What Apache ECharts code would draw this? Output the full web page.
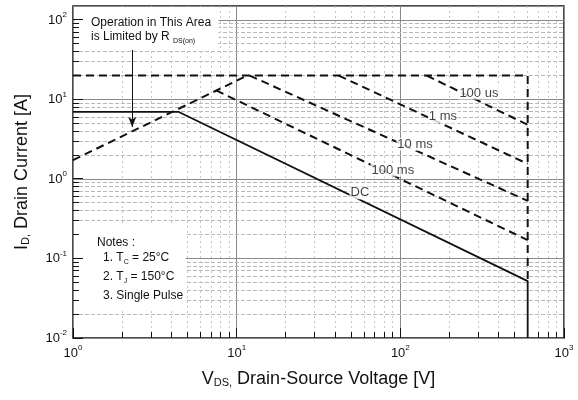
<!DOCTYPE html>
<html>
<head>
<meta charset="utf-8">
<script src="https://cdn.jsdelivr.net/npm/echarts@6/dist/echarts.min.js"></script>
<style>
  html, body { margin: 0; padding: 0; background: #fff; }
  #chart { width: 578px; height: 400px; }
</style>
</head>
<body>
<div id="chart"></div>
<script>
// Axis decades (log scales)
const xDecades = [1, 10, 100, 1000];
const yDecades = [0.01, 0.1, 1, 10, 100];
const yTop = 150;

// 20 A ceiling and 600 V breakdown wall
const limitV = [1, 600, 600];
const limitI = [20, 20, 0.052];

// R_DS(on) limited region
const rdsV = [1, 11.6];
const rdsI = [1.73, 20];

// Single-pulse boundaries
const pulseNames = ['100 us', '1 ms', '10 ms', '100 ms'];
const pulseV = [[145, 600], [42, 600], [12, 600], [7.5, 600]];
const pulseI = [[20, 4.8], [20, 1.55], [20, 0.53], [13, 0.17]];

// DC boundary
const dcV = [1, 4.4, 600, 600];
const dcI = [7, 7, 0.052, 0.01];

// Curve captions, anchored in data units
const labelText = ['100 us', '1 ms', '10 ms', '100 ms', 'DC'];
const labelV = [302, 182, 123, 90, 56.6];
const labelI = [12.05, 6.04, 2.74, 1.30, 0.67];

// Arrow pointing at the R_DS(on) line
const arrowV = 2.3;
const arrowI = [42, 4.5];

const FONT = "'Liberation Sans', Arial, Helvetica, sans-serif";
const INK = '#111';

function minorValues(decades, upper) {
  const out = [];
  decades.forEach(d => {
    for (let k = 2; k <= 9; k++) {
      const v = d * k;
      if (v < upper) out.push(v);
    }
  });
  return out;
}
const minorX = minorValues(xDecades.slice(0, -1), xDecades[xDecades.length - 1]);
const minorY = minorValues(yDecades, yTop);

const crisp = v => Math.round(v - 0.5) + 0.5;

function pairs(V, I) { return V.map((v, i) => [v, I[i]]); }

function expLabel(value) {
  const e = Math.log10(value);
  const r = Math.round(e);
  if (Math.abs(e - r) > 0.01) return '';
  return '{b|10}{s|' + r + '}';
}
const tickRich = {
  b: { fontSize: 13, fontFamily: FONT, color: INK, lineHeight: 18 },
  s: { fontSize: 8, fontFamily: FONT, color: INK, verticalAlign: 'top', lineHeight: 10 }
};

// Minor grid (behind everything)
function renderMinorGrid(params, api) {
  const cs = params.coordSys;
  const left = cs.x, right = cs.x + cs.width, top = cs.y, bottom = cs.y + cs.height;
  const children = [];
  minorY.forEach(v => {
    const y = crisp(api.coord([1, v])[1]);
    children.push({ type: 'line', silent: true,
      shape: { x1: left, y1: y, x2: right, y2: y },
      style: { stroke: '#b8b8b8', lineWidth: 1, lineDash: [4, 2] } });
  });
  minorX.forEach(v => {
    const x = crisp(api.coord([v, 1])[0]);
    children.push({ type: 'line', silent: true,
      shape: { x1: x, y1: top, x2: x, y2: bottom },
      style: { stroke: '#c6c6c6', lineWidth: 1, lineDash: [2, 3] } });
  });
  return { type: 'group', children };
}

// Inward ticks on the left and bottom frame
function renderTicks(params, api) {
  const cs = params.coordSys;
  const left = cs.x, bottom = cs.y + cs.height;
  const children = [];
  const tick = (shape) => children.push({ type: 'line', silent: true, shape,
    style: { stroke: INK, lineWidth: 1 } });
  yDecades.forEach(v => { const y = crisp(api.coord([1, v])[1]); tick({ x1: left, y1: y, x2: left + 10, y2: y }); });
  minorY.forEach(v => { const y = crisp(api.coord([1, v])[1]); tick({ x1: left, y1: y, x2: left + 6, y2: y }); });
  xDecades.forEach(v => { const x = crisp(api.coord([v, 1])[0]); tick({ x1: x, y1: bottom, x2: x, y2: bottom - 10 }); });
  minorX.forEach(v => { const x = crisp(api.coord([v, 1])[0]); tick({ x1: x, y1: bottom, x2: x, y2: bottom - 6 }); });
  return { type: 'group', children };
}

const dashed = { color: INK, width: 2, type: [8, 5] };
const solid = { color: INK, width: 1.8, type: 'solid' };

function lineSeries(name, V, I, style, extra) {
  return Object.assign({
    type: 'line', name, data: pairs(V, I),
    showSymbol: false, symbol: 'none', lineStyle: style,
    z: 3, silent: true, animation: false
  }, extra || {});
}

const series = [
  { type: 'custom', coordinateSystem: 'cartesian2d', data: [[1, 1]],
    renderItem: renderMinorGrid, z: 1, silent: true, animation: false },
  lineSeries('limit', limitV, limitI, dashed),
  lineSeries('rds', rdsV, rdsI, dashed, {
    markLine: {
      silent: true, animation: false,
      symbol: ['none', 'arrow'], symbolSize: [6, 10],
      lineStyle: { type: 'solid', color: INK, width: 1 },
      label: { show: false },
      data: [[{ coord: [arrowV, arrowI[0]] }, { coord: [arrowV, arrowI[1]] }]]
    }
  }),
  ...pulseNames.map((n, i) => lineSeries(n, pulseV[i], pulseI[i], dashed)),
  lineSeries('DC', dcV, dcI, solid),
  { type: 'scatter', z: 4, silent: true, animation: false,
    data: labelText.map((t, i) => [labelV[i], labelI[i], t]),
    symbolSize: 1, itemStyle: { color: 'transparent' },
    label: { show: true, position: 'inside', formatter: p => p.data[2],
      color: INK, fontSize: 13, fontFamily: FONT,
      backgroundColor: '#fff', padding: [0, 1] } },
  { type: 'custom', coordinateSystem: 'cartesian2d', data: [[1, 1]],
    renderItem: renderTicks, z: 10, silent: true, animation: false }
];

const option = {
  animation: false,
  backgroundColor: '#fff',
  grid: { left: 73, right: 14, top: 6, bottom: 62, show: true,
    borderColor: INK, borderWidth: 1.5, backgroundColor: 'transparent' },
  xAxis: {
    type: 'log', logBase: 10, min: xDecades[0], max: xDecades[xDecades.length - 1],
    axisLine: { show: false }, axisTick: { show: false },
    splitLine: { show: true, lineStyle: { color: '#8a8a8a', width: 1 } },
    axisLabel: { formatter: expLabel, rich: tickRich, margin: 6 },
    name: '{t|V}{s|DS,}{t| Drain-Source Voltage [V]}',
    nameLocation: 'middle', nameGap: 32,
    nameTextStyle: { rich: {
      t: { fontSize: 18, fontFamily: FONT, color: INK },
      s: { fontSize: 11, fontFamily: FONT, color: INK, verticalAlign: 'bottom' } } }
  },
  yAxis: {
    type: 'log', logBase: 10, min: yDecades[0], max: yTop,
    axisLine: { show: false }, axisTick: { show: false },
    splitLine: { show: true, lineStyle: { color: '#8a8a8a', width: 1 } },
    axisLabel: { formatter: expLabel, rich: tickRich, margin: 6, showMaxLabel: false },
    name: '{t|I}{s|D,}{t| Drain Current [A]}',
    nameLocation: 'middle', nameGap: 42,
    nameTextStyle: { rich: {
      t: { fontSize: 18, fontFamily: FONT, color: INK },
      s: { fontSize: 11, fontFamily: FONT, color: INK, verticalAlign: 'bottom' } } }
  },
  series,
  graphic: [
    { type: 'rect', z: 2, silent: true, shape: { x: 74.5, y: 7, width: 144, height: 41 }, style: { fill: '#fff' } },
    { type: 'rect', z: 2, silent: true, shape: { x: 74.5, y: 226, width: 111, height: 82 }, style: { fill: '#fff' } },
    { type: 'text', z: 5, silent: true, x: 91, y: 23,
      style: { text: 'Operation in This Area', font: '12px ' + FONT, fill: INK, verticalAlign: 'middle' } },
    { type: 'text', z: 5, silent: true, x: 91, y: 37,
      style: { text: '{t|is Limited by R }{s|DS(on)}', fill: INK, verticalAlign: 'middle',
        rich: { t: { fontSize: 12, fontFamily: FONT, lineHeight: 16 },
                s: { fontSize: 7, fontFamily: FONT, verticalAlign: 'bottom' } } } },
    { type: 'text', z: 5, silent: true, x: 97, y: 243,
      style: { text: 'Notes :', font: '12px ' + FONT, fill: INK, verticalAlign: 'middle' } },
    { type: 'text', z: 5, silent: true, x: 103, y: 258,
      style: { text: '{t|1. T}{s|C}{t| = 25°C}', fill: INK, verticalAlign: 'middle',
        rich: { t: { fontSize: 12, fontFamily: FONT, lineHeight: 16 },
                s: { fontSize: 7, fontFamily: FONT, verticalAlign: 'bottom' } } } },
    { type: 'text', z: 5, silent: true, x: 103, y: 277,
      style: { text: '{t|2. T}{s|J}{t| = 150°C}', fill: INK, verticalAlign: 'middle',
        rich: { t: { fontSize: 12, fontFamily: FONT, lineHeight: 16 },
                s: { fontSize: 7, fontFamily: FONT, verticalAlign: 'bottom' } } } },
    { type: 'text', z: 5, silent: true, x: 103, y: 296,
      style: { text: '3. Single Pulse', font: '12px ' + FONT, fill: INK, verticalAlign: 'middle' } }
  ]
};

const chart = echarts.init(document.getElementById('chart'), null, { renderer: 'canvas' });
chart.setOption(option);
</script>
</body>
</html>
